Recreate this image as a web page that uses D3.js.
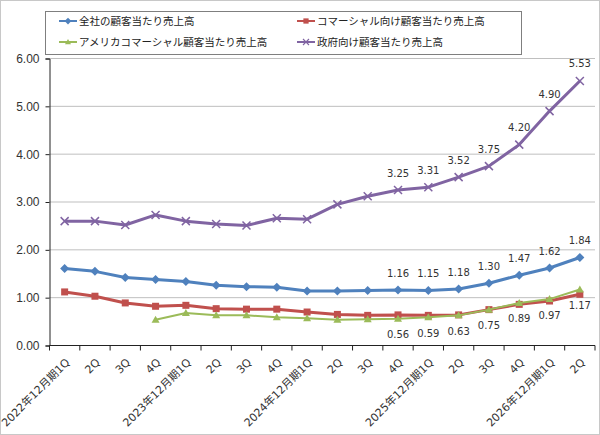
<!DOCTYPE html>
<html>
<head>
<meta charset="utf-8">
<script src="https://cdn.jsdelivr.net/npm/d3@7"></script>
<style>
  body { margin: 0; background: #fff; }
  svg { display: block; font-family: "DejaVu Sans", "Noto Sans CJK JP", sans-serif; }
</style>
</head>
<body>
<div id="chart"></div>
<script>
const categories = [
  "2022年12月期1Q", "2Q", "3Q", "4Q",
  "2023年12月期1Q", "2Q", "3Q", "4Q",
  "2024年12月期1Q", "2Q", "3Q", "4Q",
  "2025年12月期1Q", "2Q", "3Q", "4Q",
  "2026年12月期1Q", "2Q"
];
const totalValues = [1.61, 1.55, 1.42, 1.38, 1.34, 1.26, 1.23, 1.22, 1.14, 1.14, 1.15, 1.16, 1.15, 1.18, 1.30, 1.47, 1.62, 1.84];
const commercialValues = [1.12, 1.03, 0.89, 0.82, 0.84, 0.77, 0.76, 0.76, 0.70, 0.65, 0.63, 0.64, 0.63, 0.64, 0.75, 0.86, 0.93, 1.07];
const usCommercialValues = [null, null, null, 0.54, 0.68, 0.63, 0.63, 0.59, 0.57, 0.54, 0.55, 0.56, 0.59, 0.63, 0.75, 0.89, 0.97, 1.17];
const governmentValues = [2.60, 2.60, 2.52, 2.73, 2.60, 2.54, 2.51, 2.66, 2.64, 2.95, 3.12, 3.25, 3.31, 3.52, 3.75, 4.20, 4.90, 5.53];
const yTicks = [0, 1, 2, 3, 4, 5, 6];
const labelFrom = 11;

const series = [
  { name: "全社の顧客当たり売上高", values: totalValues, color: "#4f81bd", marker: "diamond", width: 3, label: "above" },
  { name: "コマーシャル向け顧客当たり売上高", values: commercialValues, color: "#c0504d", marker: "square", width: 3, label: null },
  { name: "アメリカコマーシャル顧客当たり売上高", values: usCommercialValues, color: "#9bbb59", marker: "triangle", width: 2, label: "below" },
  { name: "政府向け顧客当たり売上高", values: governmentValues, color: "#8064a2", marker: "x", width: 3, label: "above" }
];

const W = 600, H = 435;
const margin = { top: 58.5, right: 5, bottom: 89.5, left: 49.5 };

const svg = d3.select("#chart").append("svg").attr("width", W).attr("height", H);

// outer frame
svg.append("rect").attr("x", 0.5).attr("y", 0.5).attr("width", W - 1).attr("height", H - 1)
  .attr("fill", "#fff").attr("stroke", "#c8c8c8");

// categories repeat ("2Q" etc.), so the band scale is keyed by index
const x = d3.scaleBand().domain(d3.range(categories.length)).range([margin.left, W - margin.right]).padding(0);
const y = d3.scaleLinear().domain([0, 6]).range([H - margin.bottom, margin.top]);
const cx = i => x(i) + x.bandwidth() / 2;

// grid
svg.append("g").selectAll("line").data(yTicks.filter(d => d > 0)).join("line")
  .attr("x1", margin.left).attr("x2", W - margin.right)
  .attr("y1", d => y(d)).attr("y2", d => y(d))
  .attr("stroke", "#bfbfbf").attr("stroke-width", 1);

// y axis
const gy = svg.append("g").attr("transform", `translate(${margin.left},0)`)
  .call(d3.axisLeft(y).tickValues(yTicks).tickFormat(d3.format(".2f")).tickSize(4).tickPadding(6));
gy.selectAll("text").attr("fill", "#333").style("font-size", "12px");
gy.selectAll("line,path").attr("stroke", "#222");

// x axis: ticks between categories
const gx = svg.append("g").attr("transform", `translate(0,${y(0)})`);
gx.append("line").attr("x1", margin.left).attr("x2", W - margin.right).attr("stroke", "#222");
gx.selectAll(".tick").data(x.domain().map(i => x(i)).concat([x.range()[1]])).join("line")
  .attr("class", "tick")
  .attr("x1", d => d).attr("x2", d => d).attr("y1", 0).attr("y2", 5)
  .attr("stroke", "#222");
gx.selectAll("text").data(categories).join("text")
  .attr("transform", (d, i) => `translate(${cx(i) + 3},15) rotate(-45)`)
  .attr("text-anchor", "end").attr("dy", "0.35em")
  .attr("fill", "#333").style("font-size", "11px")
  .text(d => d);

// lines and markers
const line = d3.line().defined(d => d != null).x((d, i) => cx(i)).y(d => y(d));

function drawMarker(g, type, color) {
  if (type === "diamond") {
    g.append("path").attr("d", "M0,-4.5L4.5,0L0,4.5L-4.5,0Z").attr("fill", color);
  } else if (type === "square") {
    g.append("rect").attr("x", -3.5).attr("y", -3.5).attr("width", 7).attr("height", 7).attr("fill", color);
  } else if (type === "triangle") {
    g.append("path").attr("d", "M0,-4L4,3L-4,3Z").attr("fill", color);
  } else {
    g.append("path").attr("d", "M-4,-4L4,4M-4,4L4,-4").attr("stroke", color).attr("stroke-width", 1.5);
  }
}

series.forEach(s => {
  svg.append("path").datum(s.values)
    .attr("d", line)
    .attr("fill", "none").attr("stroke", s.color).attr("stroke-width", s.width)
    .attr("stroke-linejoin", "round");

  s.values.forEach((v, i) => {
    if (v == null) return;
    const g = svg.append("g").attr("transform", `translate(${cx(i)},${y(v)})`);
    drawMarker(g, s.marker, s.color);
  });
});

// data labels
series.filter(s => s.label).forEach(s => {
  svg.append("g").selectAll("text")
    .data(s.values.map((v, i) => ({ v, i })).filter(d => d.i >= labelFrom && d.v != null))
    .join("text")
    .attr("x", d => cx(d.i))
    .attr("y", d => y(d.v) + (s.label === "above" ? -17 : 16))
    .attr("dy", "0.35em").attr("text-anchor", "middle")
    .attr("fill", "#333").style("font-size", "10px")
    .text(d => d.v.toFixed(2));
});

// legend
const legend = svg.append("g");
legend.append("rect").attr("x", 45.5).attr("y", 11.5).attr("width", 476).attr("height", 43)
  .attr("fill", "#fff").attr("stroke", "#7f7f7f");
const legendPos = [[59, 21], [297, 21], [59, 42], [297, 42]];
series.forEach((s, k) => {
  const [lx, ly] = legendPos[k];
  const item = legend.append("g").attr("transform", `translate(${lx},${ly})`);
  item.append("line").attr("x1", 0).attr("x2", 18).attr("stroke", s.color).attr("stroke-width", 2);
  const m = item.append("g").attr("transform", "translate(9,0) scale(0.75)");
  drawMarker(m, s.marker, s.color);
  item.append("text").attr("x", 20).attr("dy", "0.35em")
    .attr("fill", "#222").style("font-size", "10.5px")
    .style("font-family", "'Noto Sans CJK JP', sans-serif")
    .text(s.name);
});
</script>
</body>
</html>
